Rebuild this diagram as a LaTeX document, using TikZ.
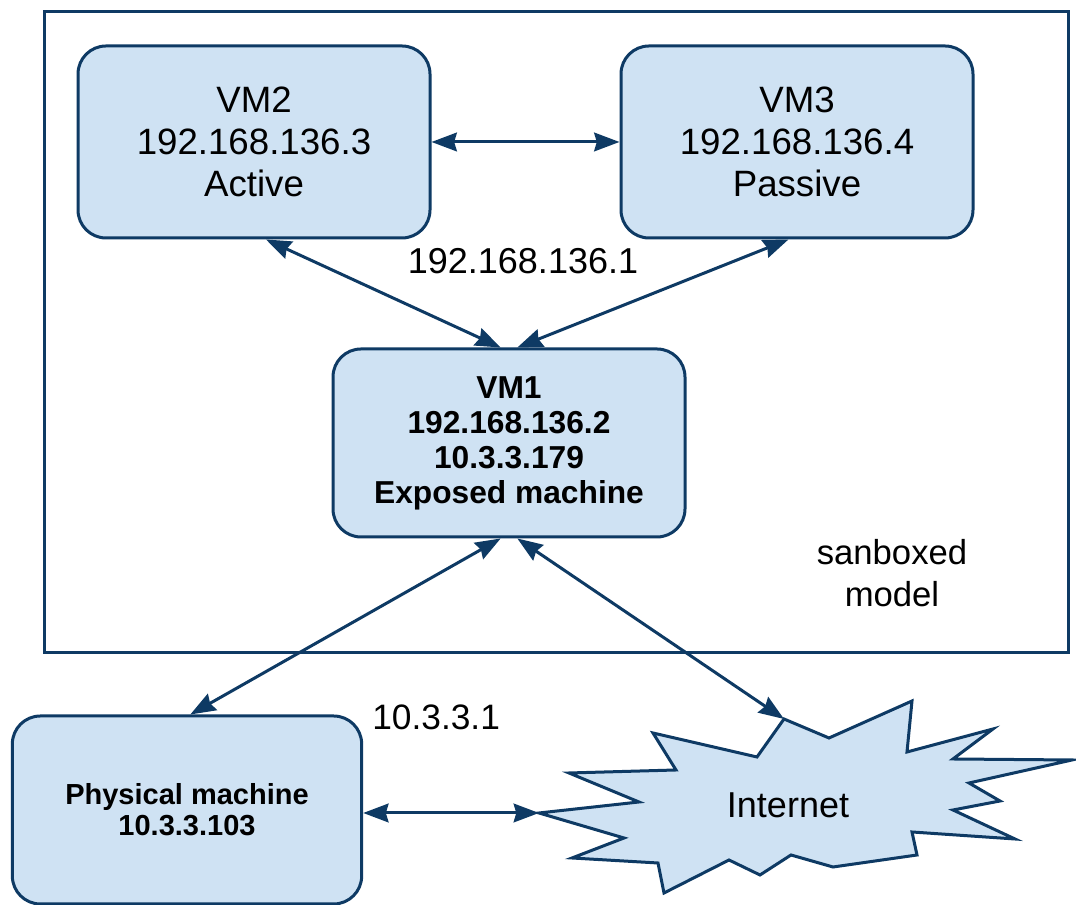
\documentclass[tikz,border=0pt]{standalone}
\usepackage{fontspec}
\setmainfont{Liberation Sans}
\usetikzlibrary{positioning,arrows.meta}
\definecolor{navy}{RGB}{14,58,100}
\definecolor{vmfill}{RGB}{207,226,243}

\begin{document}
\begin{tikzpicture}[
  x = 0.75pt,
  y = 0.75pt,
  vm/.style = {
    draw = navy,
    line width = 2.25pt,
    fill = vmfill,
    rectangle,
    rounded corners = 21pt,
    align = center,
    inner sep = 0pt,
    minimum width = 264pt,
    minimum height = 144pt,
    font = \fontsize{27.5}{31.5}\selectfont,
  },
  hostvm/.style = {
    vm,
    minimum height = 141pt,
    font = \fontsize{23.8}{26.25}\selectfont\bfseries,
  },
  host/.style = {
    vm,
    minimum width = 262pt,
    minimum height = 141pt,
    font = \fontsize{21.75}{23.25}\selectfont\bfseries,
  },
  frame/.style = {
    draw = navy,
    line width = 2.25pt,
  },
  cloud/.style = {
    draw = navy,
    line width = 2.25pt,
    fill = vmfill,
    line join = miter,
  },
  tag/.style = {
    align = center,
    inner sep = 0pt,
    font = \fontsize{27}{31.5}\selectfont,
  },
  link/.style = {
    draw = navy,
    line width = 2.25pt,
  },
  >={Stealth[length=19pt,width=14pt,inset=2pt]},
]

  \useasboundingbox (0,0) rectangle (1076,905);

  % sandbox frame
  \draw[frame] (44,252) rectangle (1068,893);

  % virtual machines
  \node[vm] (vm2) at (254,763) {VM2\\192.168.136.3\\Active};
  \node[vm] (vm3) [right=141pt of vm2] {VM3\\192.168.136.4\\Passive};
  \node[hostvm] (vm1) at (509,462) {VM1\\192.168.136.2\\10.3.3.179\\Exposed machine};

  % host and internet
  \node[host] (phys) at (187,95) {Physical machine\\10.3.3.103};

  \coordinate (inettop) at (784,186);
  \coordinate (inetleft) at (539,92);
  \draw[cloud] (inettop) -- (829,167) -- (912,204) -- (907,153) -- (993,176)
    -- (953,146) -- (1072,145) -- (969,122) -- (1000,104) -- (953,95)
    -- (1015,66) -- (912,73) -- (917,50) -- (833,38) -- (791,50)
    -- (760,30) -- (729,45) -- (664,12) -- (658,42) -- (572,47)
    -- (624,67) -- (inetleft) -- (639,103) -- (569,132) -- (676,135)
    -- (653,172) -- (757,148) -- cycle;
  \node[tag] (inet) at (788,87) [anchor=base] {Internet};

  % addresses
  \node[tag] (lbllan) at (523,631) [anchor=base] {192.168.136.1};
  \node[tag,font=\fontsize{26.5}{31.5}\selectfont] (lblgw) at (372,175) [anchor=base west] {10.3.3.1};
  \node[tag,font=\fontsize{26}{31.5}\selectfont] (lblbox) at (892,332) {sanboxed\\model};

  % links
  \path[link,<->] (vm2.east) -- (vm3.west);
  \path[link,<->] (vm2.-83) -- (vm1.95);
  \path[link,<->] (vm3.-95) -- (vm1.85);
  \path[link,<->] (vm1.-95) -- (phys.88);
  \path[link,<->] (vm1.-85) -- (inettop);
  \path[link,<->] (phys.east |- inetleft) -- (inetleft);

\end{tikzpicture}
\end{document}
